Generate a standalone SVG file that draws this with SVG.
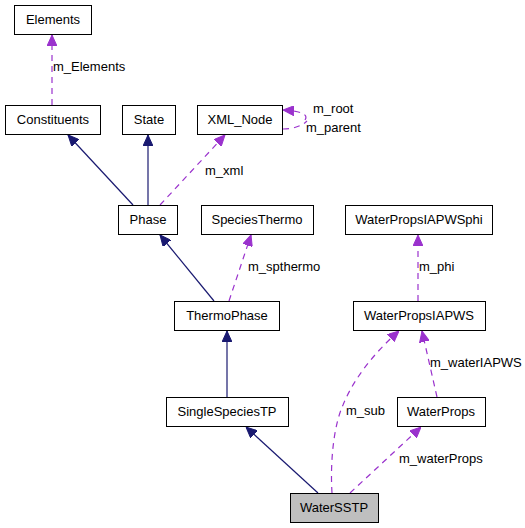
<svg xmlns="http://www.w3.org/2000/svg" width="525" height="528" viewBox="0 0 525 528">
<style>
.box{fill:#ffffff;stroke:#000000;stroke-width:1}
.cur{fill:#bfbfbf;stroke:#000000;stroke-width:1}
text{font-family:"Liberation Sans",Arial,sans-serif;font-size:13px;fill:#000000}
.n{text-anchor:middle}
.inh{fill:none;stroke:#191970;stroke-width:1.2}
.use{fill:none;stroke:#9a32cd;stroke-width:1.2;stroke-dasharray:6,5}
</style>
<defs>
<marker id="ai" markerUnits="userSpaceOnUse" viewBox="0 0 11 10" refX="11" refY="5" markerWidth="11" markerHeight="10" orient="auto"><path d="M0,0 L11,5 L0,10 z" fill="#191970" stroke="#191970"/></marker>
<marker id="au" markerUnits="userSpaceOnUse" viewBox="0 0 11 10" refX="11" refY="5" markerWidth="11" markerHeight="10" orient="auto"><path d="M0,0 L11,5 L0,10 z" fill="#9a32cd" stroke="#9a32cd"/></marker>
</defs>
<g id="connectors">
<path class="use" d="M52,105 L52,35" marker-end="url(#au)"/>
<text x="53" y="71">m_Elements</text>
<path class="inh" d="M133,205 L68,135" marker-end="url(#ai)"/>
<path class="inh" d="M148,205 L148,135" marker-end="url(#ai)"/>
<path class="use" d="M160,205 L225,135" marker-end="url(#au)"/>
<text x="205" y="175">m_xml</text>
<path class="use" d="M305,120 C309,114 300,111 283,110" marker-end="url(#au)"/>
<path class="use" d="M283,129 C293,129 302,126 307,121"/>
<text x="313" y="113">m_root</text>
<text x="306" y="132">m_parent</text>
<path class="inh" d="M214,301 L160,235" marker-end="url(#ai)"/>
<path class="use" d="M229,301 L251,235" marker-end="url(#au)"/>
<text x="248" y="271">m_spthermo</text>
<path class="use" d="M418,301 L418,235" marker-end="url(#au)"/>
<text x="419" y="271">m_phi</text>
<path class="inh" d="M227,397 L227,331" marker-end="url(#ai)"/>
<path class="use" d="M437,397 L422,331" marker-end="url(#au)"/>
<text x="430" y="367">m_waterIAPWS</text>
<path class="use" d="M332,493 C330,460 334,425 343,405 C354,378 375,352 399,331" marker-end="url(#au)"/>
<text x="346" y="415">m_sub</text>
<path class="inh" d="M318,493 L246,427" marker-end="url(#ai)"/>
<path class="use" d="M350,493 L421,427" marker-end="url(#au)"/>
<text x="399" y="463">m_waterProps</text>
</g>
<g id="Elements"><rect class="box" x="14.5" y="5.5" width="77" height="29"/><text class="n" x="53" y="24">Elements</text></g>
<g id="Constituents"><rect class="box" x="5.5" y="105.5" width="95" height="29"/><text class="n" x="53" y="124">Constituents</text></g>
<g id="State"><rect class="box" x="122.5" y="105.5" width="53" height="29"/><text class="n" x="149" y="124">State</text></g>
<g id="XML_Node"><rect class="box" x="197.5" y="105.5" width="85" height="29"/><text class="n" x="240" y="124">XML_Node</text></g>
<g id="Phase"><rect class="box" x="118.5" y="205.5" width="59" height="29"/><text class="n" x="148" y="224">Phase</text></g>
<g id="SpeciesThermo"><rect class="box" x="201.5" y="205.5" width="112" height="29"/><text class="n" x="257" y="224">SpeciesThermo</text></g>
<g id="WaterPropsIAPWSphi"><rect class="box" x="345.5" y="205.5" width="147" height="29"/><text class="n" x="419" y="224">WaterPropsIAPWSphi</text></g>
<g id="ThermoPhase"><rect class="box" x="174.5" y="301.5" width="105" height="29"/><text class="n" x="227" y="320">ThermoPhase</text></g>
<g id="WaterPropsIAPWS"><rect class="box" x="353.5" y="301.5" width="132" height="29"/><text class="n" x="419" y="320">WaterPropsIAPWS</text></g>
<g id="SingleSpeciesTP"><rect class="box" x="166.5" y="397.5" width="122" height="29"/><text class="n" x="227" y="416">SingleSpeciesTP</text></g>
<g id="WaterProps"><rect class="box" x="397.5" y="397.5" width="88" height="29"/><text class="n" x="441" y="416">WaterProps</text></g>
<g id="WaterSSTP"><rect class="cur" x="290.5" y="493.5" width="88" height="29"/><text class="n" x="334" y="512">WaterSSTP</text></g>
</svg>
